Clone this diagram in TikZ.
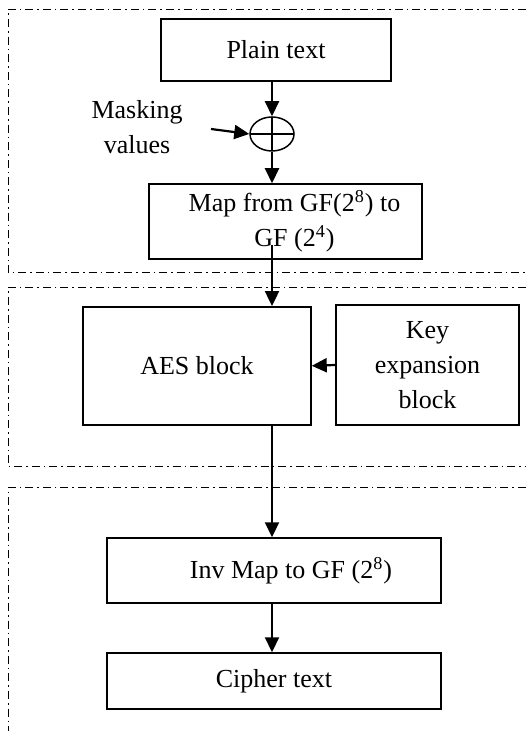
\documentclass[tikz,border=0pt]{standalone}
\usepackage{fontspec}
\setmainfont{Liberation Serif}
\usepackage{tikz}
\usetikzlibrary{arrows.meta, shapes.geometric, calc}
\tikzset{blk/.style={draw=black, line width=0.75pt, rectangle, inner sep=2pt, align=center, font=\fontsize{13}{17.5}\selectfont},
    flow/.style={line width=1.1pt, -{Triangle[length=7.5pt,width=7pt]}},
    region/.style={line width=0.4pt, dash pattern=on 4pt off 2pt on 0.8pt off 2pt},
    xorop/.style={draw=black, line width=0.75pt, ellipse, minimum width=22pt, minimum height=17pt, inner sep=0pt,
        path picture={\draw[line width=0.75pt] (path picture bounding box.north) -- (path picture bounding box.south)
            (path picture bounding box.west) -- (path picture bounding box.east);}}}

\begin{document}
\begin{tikzpicture}[x=0.5pt, y=-0.5pt]
                 \useasboundingbox (0,0) rectangle (526,731);

                 % dash-dot regions, open on the right
                 \draw[region] (526,9) -- (8,9) -- (8,272.7) -- (526,272.7);
                 \draw[region] (526,287) -- (8,287) -- (8,466.7) -- (526,466.7);
                 \draw[region] (526,487.3) -- (8,487.3) -- (8,731);

                 \node[blk, minimum width=115pt, minimum height=31pt] (plain) at (276,50) {Plain text};
                 \node[xorop] (xor) at (272,134) {};
                 \node[align=center, inner sep=0pt, font=\fontsize{13}{17.5}\selectfont] (mask) at (137,127.5) {Masking\\values};
                 \coordinate (maskin) at (211,129);
                 \node[blk, minimum width=136.5pt, minimum height=37.5pt] (map) at (285.5,221.5)
                      {\hspace*{9pt}Map from GF(2\textsuperscript{8}) to\\\hspace*{9pt}GF (2\textsuperscript{4})};
                 \coordinate (mapout) at (272,245);

                 \node[blk, minimum width=114pt, minimum height=59pt] (aes) at (197,365.8) {AES block};
                 \node[blk, minimum width=91.5pt, minimum height=60pt] (key) at (427.5,365) {Key\\expansion\\block};

                 \node[blk, minimum width=167pt, minimum height=32.5pt] (inv) at (274,570.5)
                      {\hspace*{17pt}Inv Map to GF (2\textsuperscript{8})};
                 \node[blk, minimum width=167pt, minimum height=28pt] (cipher) at (274,681) {Cipher text};

                 \draw[flow] (plain.south -| xor) -- (xor.north);
                 \draw[flow] (maskin) -- (xor.west);
                 \draw[flow] (xor.south) -- (map.north -| xor);
                 \draw[flow] (mapout) -- (aes.north -| mapout);
                 \draw[flow] (key.west) -- (aes.east);
                 \draw[flow] (aes.south -| mapout) -- (inv.north -| mapout);
                 \draw[flow] (inv.south -| mapout) -- (cipher.north -| mapout);

\end{tikzpicture}
\end{document}
